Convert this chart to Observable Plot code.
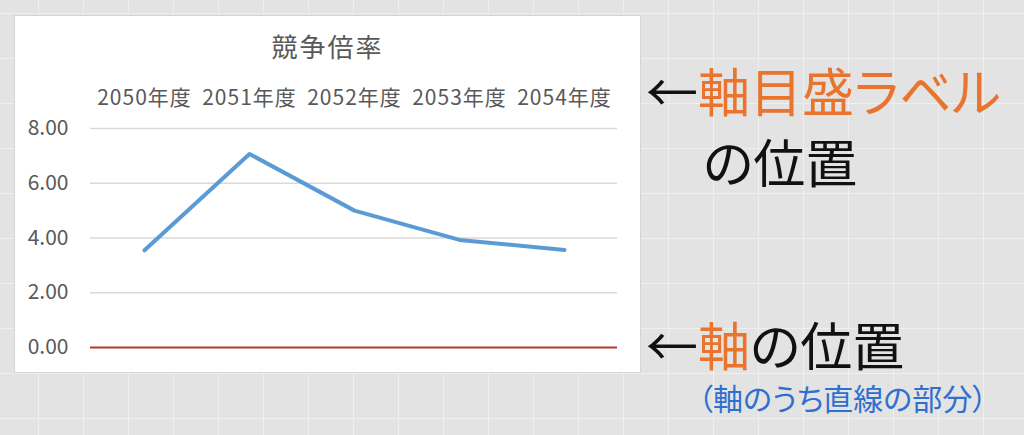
<!DOCTYPE html>
<html>
<head>
<meta charset="utf-8">
<script src="https://cdn.jsdelivr.net/npm/d3@7"></script>
<script src="https://cdn.jsdelivr.net/npm/@observablehq/plot@0.6"></script>
<style>
  html, body { margin: 0; padding: 0; }
  body {
    width: 1024px; height: 435px; overflow: hidden; position: relative;
    background-color: #e3e3e3;
    background-image:
      linear-gradient(to right, #efefef 1px, transparent 1px),
      linear-gradient(to bottom, #efefef 1px, transparent 1px);
    background-size: 45px 45px;
    background-position: 38px 13px;
    font-family: "Noto Sans CJK JP", sans-serif;
  }
  #box {
    position: absolute; left: 14px; top: 15px; width: 625px; height: 356px;
    background: #fff; border: 1px solid #d4d4d4; box-sizing: content-box;
  }
  #title {
    position: absolute; left: 14px; width: 627px; top: 33px;
    text-align: center; font-size: 26px; line-height: 26px; color: #595959;
    letter-spacing: 2px;
  }
  #chart { position: absolute; left: 14px; top: 70px; }
  #chart g[aria-label="x-axis tick label"] text { letter-spacing: 1px; }
  .note { position: absolute; white-space: nowrap; line-height: 1; font-feature-settings: "palt"; }
  .big { font-size: 52px; color: #111; }
  .or { color: #e8742e; }
  .blue { font-size: 30px; color: #2f6fcf; }
</style>
</head>
<body>
<div id="box"></div>
<div id="title">競争倍率</div>
<div id="chart"></div>
<div class="note big" style="left:646px; top:64px;">←<span class="or">軸目盛ラベル</span></div>
<div class="note big" style="left:703px; top:135px;">の位置</div>
<div class="note big" style="left:646px; top:318px;">←<span class="or">軸</span>の位置</div>
<div class="note blue" style="left:698px; top:382px;">（軸のうち直線の部分）</div>
<script>
const years = ["2050年度", "2051年度", "2052年度", "2053年度", "2054年度"];
const rates = [3.55, 7.07, 5.0, 3.93, 3.56];
const yTicks = [0, 2, 4, 6, 8];

const data = years.map((year, i) => ({year, rate: rates[i]}));

const chart = Plot.plot({
  width: 626,
  height: 300,
  marginLeft: 76,
  marginRight: 23,
  marginTop: 58,
  marginBottom: 23,
  style: {fontFamily: "'Noto Sans CJK JP', sans-serif", background: "transparent", overflow: "visible"},
  x: {type: "point", domain: years, padding: 0.5},
  y: {domain: [0, 8]},
  marks: [
    Plot.ruleY(yTicks.filter(d => d !== 0), {stroke: "#d9d9d9", strokeWidth: 1.5}),
    Plot.ruleY([0], {stroke: "#b23a2c", strokeWidth: 2}),
    Plot.axisY({ticks: yTicks, tickSize: 0, tickPadding: 22, tickFormat: d => d.toFixed(2),
      fontSize: 21, fill: "#595959", label: null}),
    Plot.axisX({anchor: "top", tickSize: 0, tickPadding: 24, fontSize: 21, fill: "#595959", label: null}),
    Plot.lineY(data, {x: "year", y: "rate", stroke: "#5b9bd5", strokeWidth: 4, strokeLinejoin: "round", strokeLinecap: "round"})
  ]
});
document.getElementById("chart").appendChild(chart);
</script>
</body>
</html>
